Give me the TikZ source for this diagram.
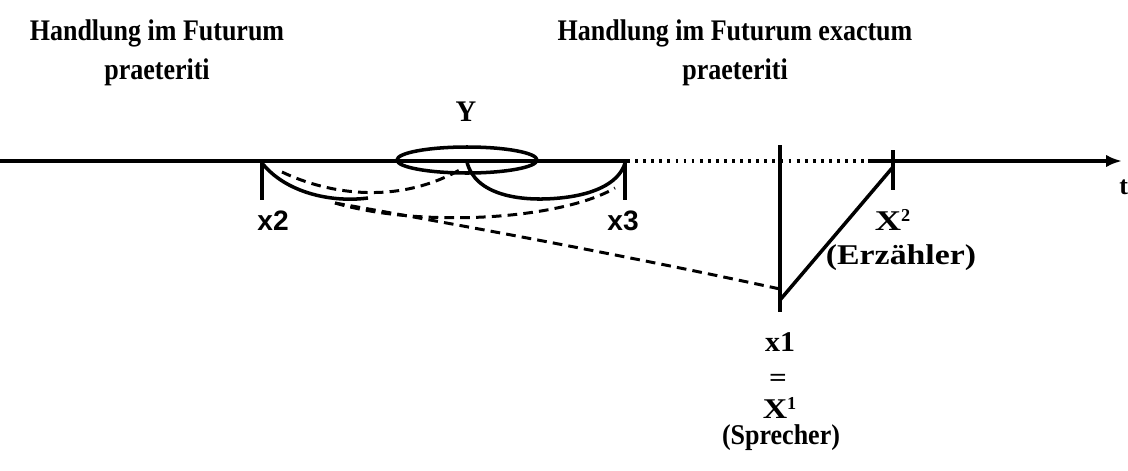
\documentclass[tikz,border=0pt]{standalone}
\usepackage{fontspec}
\setmainfont{Liberation Serif}
\newfontfamily\lsans{Liberation Sans}
\usetikzlibrary{arrows.meta}
\tikzset{
  lbl/.style={inner sep=0pt, font=\fontsize{14.8}{17}\selectfont\bfseries},
  tlbl/.style={inner sep=0pt, font=\fontsize{14.8}{17}\selectfont\bfseries, yscale=1.15},
  slbl/.style={inner sep=0pt, font=\fontsize{16}{18}\selectfont\lsans\bfseries},
  thick line/.style={line width=2pt},
  dashline/.style={line width=1.7pt, dash pattern=on 5.5pt off 3.5pt},
  dotline/.style={line width=1.8pt, dash pattern=on 1.6pt off 3pt},
}
\begin{document}
\begin{tikzpicture}[x=0.02cm,y=-0.02cm]
\useasboundingbox (0,0) rectangle (1128,470);
% titles
\node[lbl] (t1) at (157,33) {\scalebox{1}[1.15]{Handlung im Futurum}};
\node[lbl] (t1b) at (157,72) {\scalebox{1}[1.15]{praeteriti}};
\node[lbl] (t2) at (735,33) {\scalebox{1}[1.15]{Handlung im Futurum exactum}};
\node[lbl] (t2b) at (735,72) {\scalebox{1}[1.15]{praeteriti}};
\node[lbl] (Y) at (466,112) {\scalebox{1.1}[1.15]{Y}};
% coordinates
\coordinate (L0) at (0,161);
\coordinate (D0) at (627,161);
\coordinate (D1) at (868,161);
\coordinate (Aend) at (1122,161);
\coordinate (x2top) at (262,161);
\coordinate (x2bot) at (262,200);
\coordinate (x3top) at (625,161);
\coordinate (x3bot) at (625,200);
\coordinate (ec) at (467,160);
\coordinate (vtop) at (780,145);
\coordinate (vbot) at (780,312);
\coordinate (x1p) at (780,300);
\coordinate (X2p) at (893,167);
\coordinate (tk2top) at (893,150);
\coordinate (tk2bot) at (893,190);
\coordinate (s1a) at (262,163);
\coordinate (s1b) at (368,198);
\coordinate (s2a) at (467,162);
\coordinate (s2m) at (560,198);
\coordinate (s2b) at (625,163);
\coordinate (dA0) at (282,172);
\coordinate (dA1) at (463,168);
\coordinate (dB0) at (335,203);
\coordinate (dB1) at (615,188);
\coordinate (dC1) at (780,289);
% timeline
\draw[thick line] (L0) -- (D0);
\draw[dotline] (D0) -- (D1);
\draw[thick line, -{Latex[length=9pt,width=7pt]}] (D1) -- (Aend);
\node[lbl, anchor=west] (t) at (1119,187) {t};
% ticks
\draw[thick line] (x2top) -- (x2bot);
\draw[thick line] (x3top) -- (x3bot);
% ellipse
\draw[thick line] (ec) ellipse [x radius=70, y radius=13];
% arcs
\draw[thick line] (s1a) .. controls (285,192) and (330,203) .. (s1b);
\draw[thick line] (s2a) .. controls (475,195) and (520,202) .. (s2m)
                  .. controls (600,194) and (620,180) .. (s2b);
\draw[dashline] (dA0) .. controls (330,195) and (400,205) .. (dA1);
\draw[dashline] (dB0) .. controls (420,228) and (560,220) .. (dB1);
\draw[dashline] (dB0) .. controls (420,218) and (600,250) .. (dC1);
% right part
\draw[thick line] (vtop) -- (vbot);
\draw[thick line] (x1p) -- (X2p);
\draw[thick line] (tk2top) -- (tk2bot);
% labels
\node[slbl] (lx2) at (273,221) {x2};
\node[slbl] (lx3) at (623,221) {x3};
\node[lbl] (lX2) at (893,220) {\scalebox{1.4}[1.1]{X}\textsuperscript{2}};
\node[lbl] (lErz) at (901,258) {\scalebox{1.3}[1.1]{(Erzähler)}};
\node[lbl] (lx1) at (780,342) {\scalebox{1.15}[1.1]{x1}};
\node[lbl] (leq) at (778,380) {\scalebox{1.2}[1]{=}};
\node[lbl] (lX1) at (780,408) {\scalebox{1.3}[1.1]{X}\textsuperscript{1}};
\node[lbl] (lSpr) at (781,438) {\scalebox{1}[1.1]{(Sprecher)}};
\end{tikzpicture}
\end{document}
